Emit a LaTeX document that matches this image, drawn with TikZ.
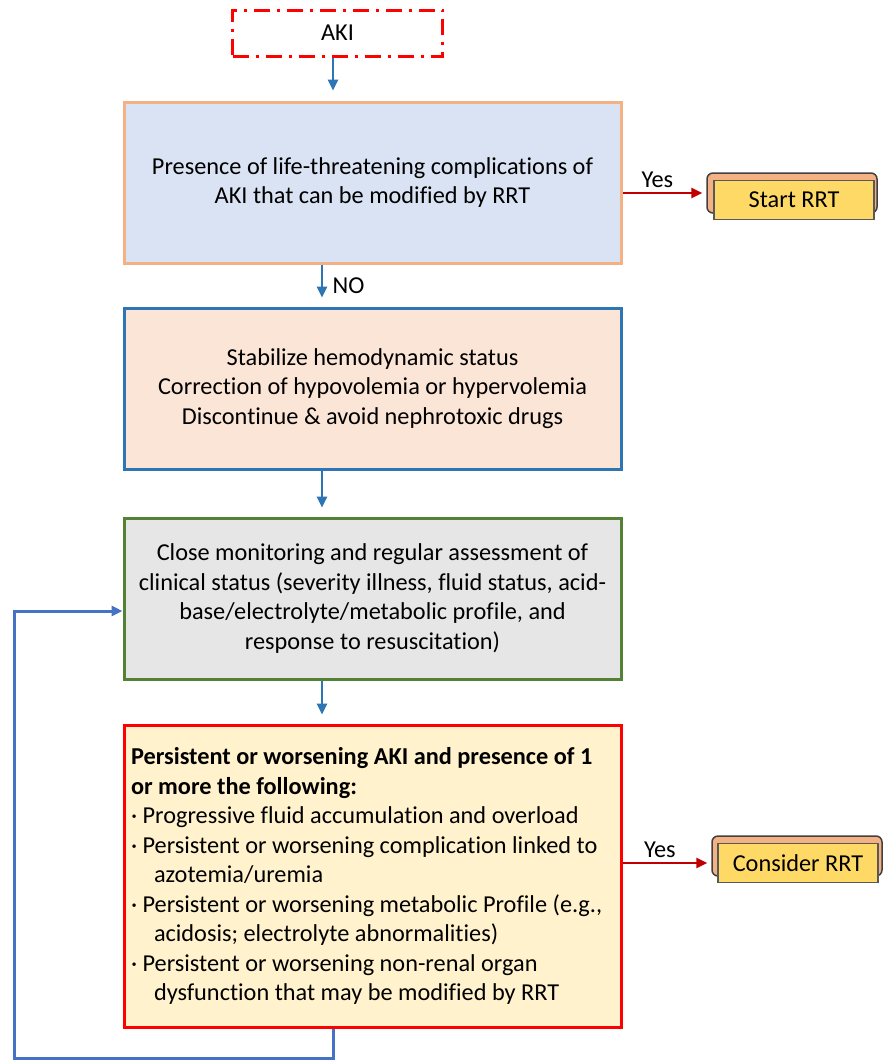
\documentclass[tikz,border=0pt]{standalone}
\usepackage{fontspec}
\setmainfont{Carlito}[Ligatures=NoCommon]
\usetikzlibrary{arrows.meta}

\definecolor{akired}{HTML}{FF0000}
\definecolor{bluefill}{HTML}{DAE3F3}
\definecolor{orangeline}{HTML}{F4B183}
\definecolor{peachfill}{HTML}{FBE5D6}
\definecolor{blueline}{HTML}{2E75B6}
\definecolor{grayfill}{HTML}{E7E6E6}
\definecolor{greenline}{HTML}{548235}
\definecolor{creamfill}{HTML}{FFF2CC}
\definecolor{darkred}{HTML}{C00000}
\definecolor{loopblue}{HTML}{4472C4}
\definecolor{goldfill}{HTML}{FFD966}

\newcommand{\ind}{\hspace*{23pt}}

\begin{document}
\begin{tikzpicture}[x=1pt,y=-1pt,
  every node/.style={font=\fontsize{24.3}{29.5}\selectfont},
  stage/.style={draw, line width=3pt, minimum width=497pt, align=center, inner sep=0pt},
  flow/.style={blueline, line width=2.5pt, -{Triangle[length=11pt,width=10pt]}, shorten >=9pt},
  yesflow/.style={darkred, line width=2.5pt, -{Triangle[length=11pt,width=10pt]}, shorten >=4pt},
  backbox/.style={draw=black!75, line width=1.5pt, fill=orangeline, rounded corners=6pt,
    minimum width=170pt, minimum height=40pt},
  frontbox/.style={draw=black!65, line width=1.5pt, fill=goldfill,
    minimum width=160pt, minimum height=39pt, inner sep=0pt}]
  \useasboundingbox (0,0) rectangle (885,1061);

  % start
  \node[draw=akired, line width=3pt, dash pattern=on 16pt off 7pt on 3pt off 7pt,
    minimum width=210pt, minimum height=46pt] (aki) at (337.5,33) {AKI};

  % main column
  \node[stage, draw=orangeline, fill=bluefill, minimum height=161pt] (compl) at (372.5,182.5)
    {Presence of life-threatening complications of\\AKI that can be modified by RRT};
  \node[stage, draw=blueline, fill=peachfill, minimum height=161pt] (stab) at (372.5,388.5)
    {Stabilize hemodynamic status\\Correction of hypovolemia or hypervolemia\\Discontinue \& avoid nephrotoxic drugs};
  \node[stage, draw=greenline, fill=grayfill, minimum height=161pt] (monit) at (372.5,598.5)
    {Close monitoring and regular assessment of\\clinical status (severity illness, fluid status, acid-\\base/electrolyte/metabolic profile, and\\response to resuscitation)};
  \node[stage, draw=akired, fill=creamfill, minimum height=302pt, align=flush left,
    text width=483pt, inner xsep=7pt] (persist) at (372.5,876)
    {\textbf{Persistent or worsening AKI and presence of 1}\\
     \textbf{or more the following:}\\
     · Progressive fluid accumulation and overload\\
     · Persistent or worsening complication linked to\\
     \ind azotemia/uremia\\
     · Persistent or worsening metabolic Profile (e.g.,\\
     \ind acidosis; electrolyte abnormalities)\\
     · Persistent or worsening non-renal organ\\
     \ind dysfunction that may be modified by RRT};

  % outcomes
  \node[backbox] (startbk) at (792,193) {};
  \node[frontbox] (start) at (794,200) {Start RRT};
  \node[backbox] (considerbk) at (797,856) {};
  \node[frontbox] (consider) at (798,863) {Consider RRT};

  % connectors
  \draw[flow, shorten >=10pt] ([xshift=-4.5pt]aki.south) -- ([xshift=-4.5pt]aki.south |- compl.north);
  \draw[flow] ([xshift=-50.5pt]compl.south) -- node[right, xshift=6pt, black] {NO} ([xshift=-50.5pt]compl.south |- stab.north);
  \draw[flow] ([xshift=-50.5pt]stab.south) -- ([xshift=-50.5pt]stab.south |- monit.north);
  \draw[flow] ([xshift=-50.5pt]monit.south) -- ([xshift=-50.5pt]monit.south |- persist.north);
  \draw[yesflow] ([yshift=-10.5pt]compl.east) -- node[above, yshift=1pt, xshift=-7pt, black] {Yes} ([yshift=-10.5pt]compl.east -| startbk.west);
  \draw[yesflow] ([yshift=13pt]persist.east) -- node[above, yshift=1pt, xshift=-7pt, black] {Yes} ([yshift=13pt]persist.east -| considerbk.west);

  % loop back
  \coordinate (loopbot) at (333,1058);
  \draw[loopblue, line width=3pt, -{Triangle[length=11pt,width=10pt]}]
    (persist.south -| loopbot) -- (loopbot) -- (14,1058) -- (14,611) -- (monit.west |- 0,611);
\end{tikzpicture}
\end{document}
